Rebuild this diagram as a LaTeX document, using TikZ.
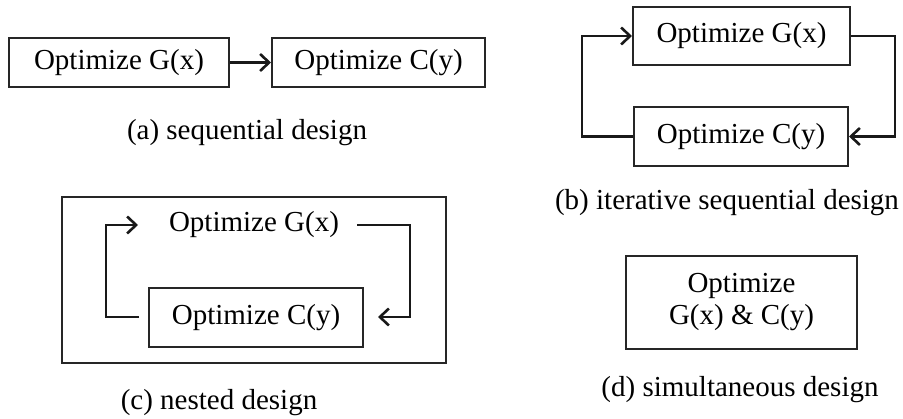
\documentclass[tikz,border=0pt]{standalone}
\usepackage{fontspec}
\setmainfont{Liberation Serif}
\usetikzlibrary{arrows.meta}
\begin{document}
\begin{tikzpicture}[x=1pt,y=-1pt,
  box/.style={draw=black!85,line width=2pt,inner sep=0pt,minimum width=#1},
  lbl/.style={inner sep=0pt,font=\fontsize{29}{32}\selectfont},
  captxt/.style={inner sep=0pt,anchor=base,font=\fontsize{29}{32}\selectfont},
  conn/.style={draw=black!90,line width=2.6pt,-{Straight Barb[length=9pt,width=17pt,line width=2.6pt]}}]
\useasboundingbox (0,0) rectangle (903,419);
\fill[white] (0,0) rectangle (903,419);
% (a)
\node[box=220pt,minimum height=49pt,lbl] (ga) at (119,62.5) {Optimize G(x)};
\node[box=213pt,minimum height=49pt,lbl] (ca) at (378.5,62.5) {Optimize C(y)};
\draw[conn] (ga.east) -- (ca.west);
\node[captxt] (capa) at (247,140) {(a) sequential design};
% (b)
\node[box=217pt,minimum height=58pt,lbl] (gb) at (741.5,36) {Optimize G(x)};
\node[box=214pt,minimum height=59pt,lbl] (cb) at (741,136.5) {Optimize C(y)};
\coordinate (bl) at (582,0);
\coordinate (br) at (895,0);
\draw[conn] (cb.west) -- (bl |- cb.west) -- (bl |- gb.west) -- (gb.west);
\draw[conn] (gb.east) -- (br |- gb.east) -- (br |- cb.east) -- (cb.east);
\node[captxt] (capb) at (727,210) {(b) iterative sequential design};
% (c)
\node[box=384pt,minimum height=166pt] (outer) at (254,280) {};
\node[lbl] (gc) at (254,225) {Optimize G(x)};
\node[box=214pt,minimum height=59pt,lbl] (cc) at (256,317.5) {Optimize C(y)};
\coordinate (c1) at (139,317);
\coordinate (c2) at (106,317);
\coordinate (c3) at (106,225);
\coordinate (c4) at (138,225);
\coordinate (c5) at (357,225);
\coordinate (c6) at (410,225);
\coordinate (c7) at (410,317);
\coordinate (c8) at (378,317);
\draw[conn] (c1) -- (c2) -- (c3) -- (c4);
\draw[conn] (c5) -- (c6) -- (c7) -- (c8);
\node[captxt] (capc) at (219,410) {(c) nested design};
% (d)
\node[box=231pt,minimum height=93pt,lbl,align=center] (gd) at (741.5,302.5) {Optimize\\G(x) \& C(y)};
\node[captxt] (capd) at (740,397) {(d) simultaneous design};
\end{tikzpicture}
\end{document}
